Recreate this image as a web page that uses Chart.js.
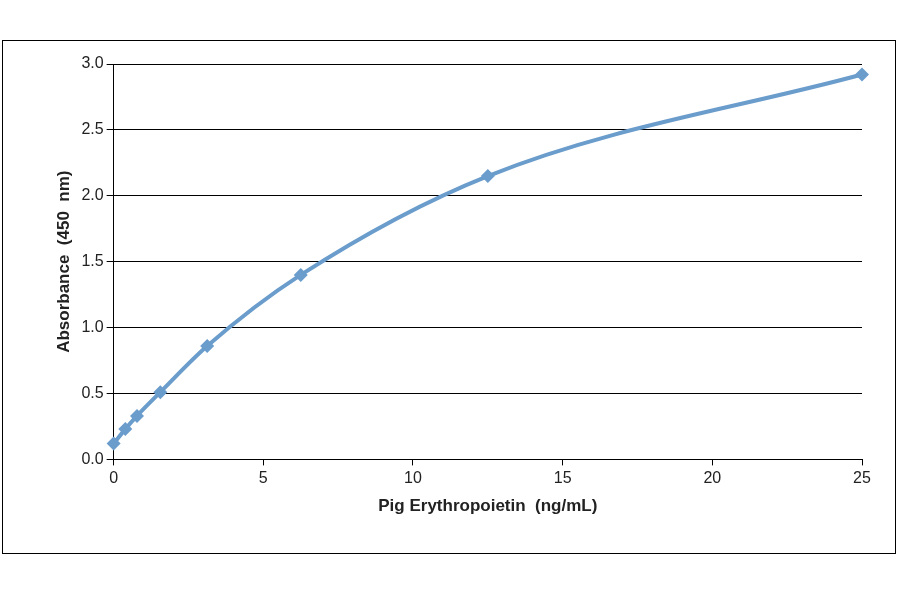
<!DOCTYPE html>
<html><head><meta charset="utf-8">
<script src="https://cdn.jsdelivr.net/npm/chart.js@4"></script>
<style>
html,body{margin:0;padding:0;background:#fff;}
#frame{position:absolute;left:2px;top:40px;width:894px;height:514px;border:1px solid #000;box-sizing:border-box;}
#wrap{position:absolute;left:0;top:0;width:900px;height:594px;}
</style></head><body>
<div id="frame"></div>
<div id="wrap"><canvas id="c" width="900" height="594"></canvas></div>
<script>
const concentrations = [0, 0.39, 0.78, 1.56, 3.125, 6.25, 12.5, 25];
const absorbance = [0.12, 0.23, 0.33, 0.51, 0.86, 1.40, 2.15, 2.92];
const xTicks = [0, 5, 10, 15, 20, 25];
const yTicks = [0, 0.5, 1.0, 1.5, 2.0, 2.5, 3.0];
const blue = '#6a9ccc';
new Chart(document.getElementById('c'), {
  type: 'scatter',
  data: { datasets: [{
    data: concentrations.map((x, i) => ({x, y: absorbance[i]})),
    showLine: true, borderColor: blue, backgroundColor: blue, clip: false,
    borderWidth: 4, tension: 0.4, cubicInterpolationMode: 'monotone',
    pointStyle: 'rectRot', pointRadius: 7, pointBorderWidth: 0
  }]},
  options: {
    responsive: false, animation: false,
    layout: { padding: { left: 50, right: 38, top: 64, bottom: 73 } },
    plugins: { legend: { display: false }, tooltip: { enabled: false } },
    scales: {
      x: { type: 'linear', min: 0, max: 25,
        afterBuildTicks: s => { s.ticks = xTicks.map(v => ({value: v})); },
        grid: { display: true, drawOnChartArea: false, color: '#000', tickLength: 6 },
        border: { color: '#000', width: 1 },
        ticks: { color: '#222', font: { family: 'Liberation Sans', size: 16 }, padding: 4 },
        title: { display: true, text: 'Pig Erythropoietin  (ng/mL)', color: '#222',
          font: { family: 'Liberation Sans', size: 17, weight: 'bold' } }
      },
      y: { min: 0, max: 3,
        afterBuildTicks: s => { s.ticks = yTicks.map(v => ({value: v})); },
        grid: { color: '#000', lineWidth: 1, tickLength: 7 },
        border: { color: '#000', width: 1 },
        ticks: { color: '#222', font: { family: 'Liberation Sans', size: 16 }, callback: v => v.toFixed(1) },
        title: { display: true, text: 'Absorbance  (450  nm)', color: '#222',
          font: { family: 'Liberation Sans', size: 17, weight: 'bold' } }
      }
    }
  }
});
</script>
</body></html>
